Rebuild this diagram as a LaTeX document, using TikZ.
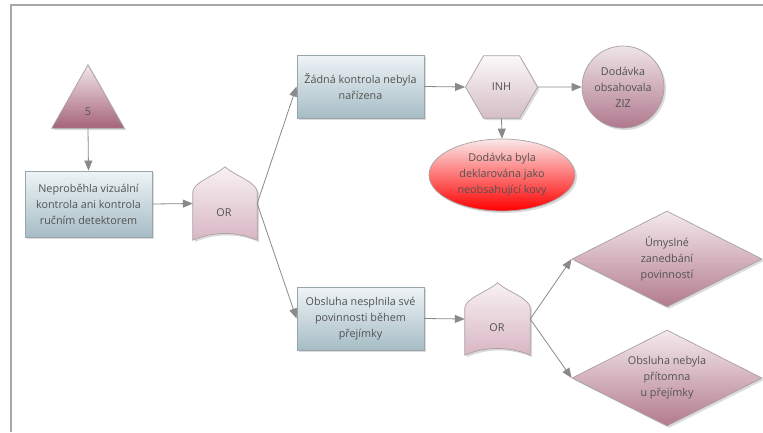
\documentclass[tikz,border=0pt]{standalone}
\usepackage{fontspec}
\setmainfont{Open Sans}
\usetikzlibrary{arrows.meta,shapes.geometric,shadows,backgrounds,calc}

\pgfdeclarelayer{paper}
\pgfsetlayers{paper,background,main}

\definecolor{txtgray}{HTML}{525252}
\definecolor{linegray}{HTML}{8A8A8A}
\definecolor{framegray}{HTML}{A8A8A8}
\definecolor{boxedge}{HTML}{98A6AC}
\definecolor{boxtop}{HTML}{EEF4F7}
\definecolor{boxbot}{HTML}{A6BCC5}
\definecolor{mauveedge}{HTML}{A8A0A3}
\definecolor{tritop}{HTML}{F3E6EB}
\definecolor{tribot}{HTML}{A5637A}
\definecolor{gatetop}{HTML}{F8F1F4}
\definecolor{gatebot}{HTML}{D8B6C3}
\definecolor{hextop}{HTML}{FBF8F9}
\definecolor{hexbot}{HTML}{D5BDC6}
\definecolor{circtop}{HTML}{EFE4E8}
\definecolor{circbot}{HTML}{B0798D}
\definecolor{diatop}{HTML}{F4EAEE}
\definecolor{diabot}{HTML}{B37A8E}
\definecolor{redtop}{HTML}{FBE9E9}
\definecolor{redbot}{HTML}{FF0000}

\tikzset{
  every node/.style={font=\fontsize{10.8}{16}\selectfont, text=txtgray, align=center},
  conn/.style={draw=linegray, line width=0.8pt, -{Triangle[length=10pt,width=8pt]}},
  shadowed/.style={drop shadow={shadow xshift=2pt, shadow yshift=-2pt, opacity=0.28}},
  eventbox/.style={rectangle, draw=boxedge, line width=0.9pt, top color=boxtop,
    bottom color=boxbot, minimum width=127pt, inner sep=2pt, shadowed},
  slot/.style={inner sep=0pt, draw=none, fill=none},
  gatefill/.style={draw=mauveedge, line width=0.7pt, top color=gatetop, bottom color=gatebot, shadowed},
  trifill/.style={draw=mauveedge, line width=0.7pt, top color=tritop, bottom color=tribot, shadowed},
  hexnode/.style={regular polygon, regular polygon sides=6, minimum size=72pt, inner sep=0pt,
    draw=mauveedge, line width=0.7pt, top color=hextop, bottom color=hexbot, shadowed},
  circnode/.style={circle, minimum size=82pt, inner sep=0pt, draw=mauveedge, line width=0.7pt,
    top color=circtop, bottom color=circbot, shadowed},
  rednode/.style={ellipse, minimum width=146pt, minimum height=72pt, inner sep=0pt,
    draw=mauveedge, line width=0.7pt, top color=redtop, bottom color=redbot, shadowed},
  dianode/.style={diamond, aspect=2, minimum width=190pt, minimum height=96pt, inner sep=0pt,
    draw=mauveedge, line width=0.7pt, top color=diatop, bottom color=diabot, shadowed},
}

% OR gate outline: pointed arch on top, concave bottom, fitted to a node's box
\newcommand\orgate[1]{%
  \path[gatefill] let \p1=(#1.north west), \p2=(#1.south east) in
    (\x1,\y2) -- (\x1,\y1-25pt)
    .. controls (\x1+1pt,\y1-15pt) and ({0.5*\x1+0.5*\x2-10pt},\y1-9pt) .. ({0.5*\x1+0.5*\x2},\y1)
    .. controls ({0.5*\x1+0.5*\x2+10pt},\y1-9pt) and (\x2-1pt,\y1-15pt) .. (\x2,\y1-25pt)
    -- (\x2,\y2)
    .. controls ({0.5*\x1+0.5*\x2+12pt},\y2+9pt) and ({0.5*\x1+0.5*\x2-12pt},\y2+9pt) .. (\x1,\y2)
    -- cycle;}

\begin{document}
\begin{tikzpicture}[x=1pt, y=-1pt]
  \useasboundingbox (0,0) rectangle (763,432);
  \begin{pgfonlayer}{paper}
    \fill[white] (0,0) rectangle (763,432);
  \end{pgfonlayer}

  % page frame
  \draw[framegray, line width=1.4pt] (11,432) -- (11,5) -- (763,5);

  % transfer triangle
  \node[slot, minimum width=72pt, minimum height=63pt] (tri) at (88,96.5) {};
  \node (trilab) at (88,112) {5};

  % events
  \node[eventbox, minimum height=66pt] (box1) at (88.5,204)
    {Neproběhla vizuální\\kontrola ani kontrola\\ručním detektorem};
  \node[eventbox, minimum height=63pt] (box2) at (360.5,86.5)
    {Žádná kontrola nebyla\\nařízena};
  \node[eventbox, minimum height=63pt] (box3) at (360.5,318.5)
    {Obsluha nesplnila své\\povinnosti během\\přejímky};

  % OR gates
  \node[slot, minimum width=64pt, minimum height=73pt] (or1) at (225,203.5) {};
  \node (or1lab) at (224,213) {OR};
  \node[slot, minimum width=65pt, minimum height=72pt] (or2) at (497.5,319) {};
  \node (or2lab) at (497,328) {OR};

  % inhibit gate and its conditions
  \node[hexnode] (inh) at (501.5,87) {INH};
  \node[circnode] (ziz) at (623,87) {Dodávka\\obsahovala\\ZIZ};
  \node[rednode] (decl) at (502,175) {Dodávka byla\\deklarována jako\\neobsahující kovy};

  % undeveloped events
  \node[dianode] (d1) at (667,259) {Úmyslné\\zanedbání\\povinností};
  \node[dianode] (d2) at (667,378) {Obsluha nebyla\\přítomna\\u přejímky};

  \begin{scope}[on background layer]
    \path[trifill] (tri.south west) -- (tri.north) -- (tri.south east) -- cycle;
    \orgate{or1}
    \orgate{or2}
  \end{scope}

  % connectors
  \draw[conn] (tri.south) -- (box1.north);
  \draw[conn] (box1.east) -- (or1.west);
  \draw[conn] (or1.east) -- (box2.west);
  \draw[conn] (or1.east) -- (box3.west);
  \draw[conn] (box2.east) -- (inh.west);
  \draw[conn] (inh.east) -- (ziz.west);
  \draw[conn] (inh.south) -- (decl.north);
  \draw[conn] (box3.east) -- (or2.west);
  \draw[conn] (or2.east) -- (d1.west);
  \draw[conn] (or2.east) -- (d2.west);
\end{tikzpicture}
\end{document}
